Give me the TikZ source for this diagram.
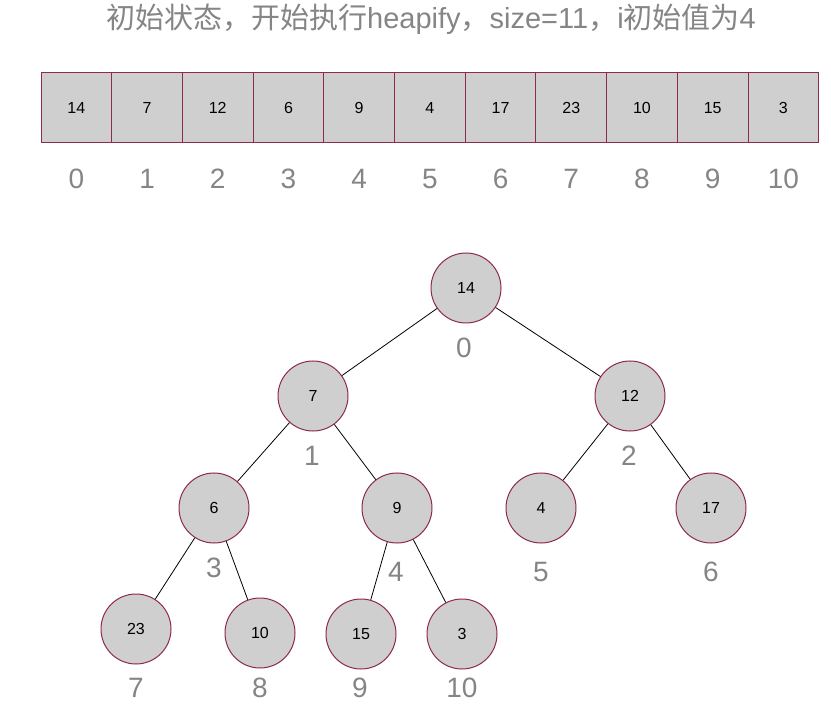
\documentclass[tikz,border=0pt]{standalone}
\usepackage{fontspec}
\setmainfont{Liberation Sans}
\newfontfamily\cjk{Noto Sans CJK SC}
\definecolor{cellfill}{HTML}{CFCFCF}
\definecolor{celledge}{HTML}{8E2A4A}
\definecolor{idxgray}{HTML}{858585}
\begin{document}
\begin{tikzpicture}[x=1pt,y=-1pt,
  cellbox/.style={draw=celledge,fill=cellfill,line width=1pt,minimum width=70.7pt,minimum height=70pt,inner sep=0pt,font=\fontsize{16}{16}\selectfont},
  heapnode/.style={circle,draw=celledge,fill=cellfill,line width=1pt,minimum size=70pt,inner sep=0pt,font=\fontsize{16}{16}\selectfont},
  idx/.style={text=idxgray,inner sep=0pt,font=\fontsize{28}{28}\selectfont},
  edge/.style={draw=black,line width=0.8pt}]
\useasboundingbox (0,0) rectangle (831,722);
\node[text=idxgray,inner sep=0pt,font=\fontsize{29}{29}\selectfont] (title) at (431,19)
  {{\cjk 初始状态，开始执行}heapify{\cjk ，}size=11{\cjk ，}i{\cjk 初始值为}4};
% array
\foreach \v [count=\i from 0] in {14,7,12,6,9,4,17,23,10,15,3} {
  \node[cellbox] (c\i) at ({41+70.7*\i+35.35},108) {\v};
  \node[idx] (ci\i) at ({41+70.7*\i+35.35},179) {\i};
}
% tree
\node[heapnode] (n0) at (466,288) {14};
\node[heapnode] (n1) at (313,396) {7};
\node[heapnode] (n2) at (630,396) {12};
\node[heapnode] (n3) at (214,508) {6};
\node[heapnode] (n4) at (397,508) {9};
\node[heapnode] (n5) at (541,508) {4};
\node[heapnode] (n6) at (711,508) {17};
\node[heapnode] (n7) at (136,629) {23};
\node[heapnode] (n8) at (260,633) {10};
\node[heapnode] (n9) at (361,634) {15};
\node[heapnode] (n10) at (462,634) {3};
\node[idx] (l0) at (464,348) {0};
\node[idx] (l1) at (312,456) {1};
\node[idx] (l2) at (629,456) {2};
\node[idx] (l3) at (214,568) {3};
\node[idx] (l4) at (396,572) {4};
\node[idx] (l5) at (541,572) {5};
\node[idx] (l6) at (711,572) {6};
\node[idx] (l7) at (136,688) {7};
\node[idx] (l8) at (260,688) {8};
\node[idx] (l9) at (360,688) {9};
\node[idx] (l10) at (462,688) {10};
\draw[edge] (n0) -- (n1);
\draw[edge] (n0) -- (n2);
\draw[edge] (n1) -- (n3);
\draw[edge] (n1) -- (n4);
\draw[edge] (n2) -- (n5);
\draw[edge] (n2) -- (n6);
\draw[edge] (n3) -- (n7);
\draw[edge] (n3) -- (n8);
\draw[edge] (n4) -- (n9);
\draw[edge] (n4) -- (n10);
\end{tikzpicture}
\end{document}
